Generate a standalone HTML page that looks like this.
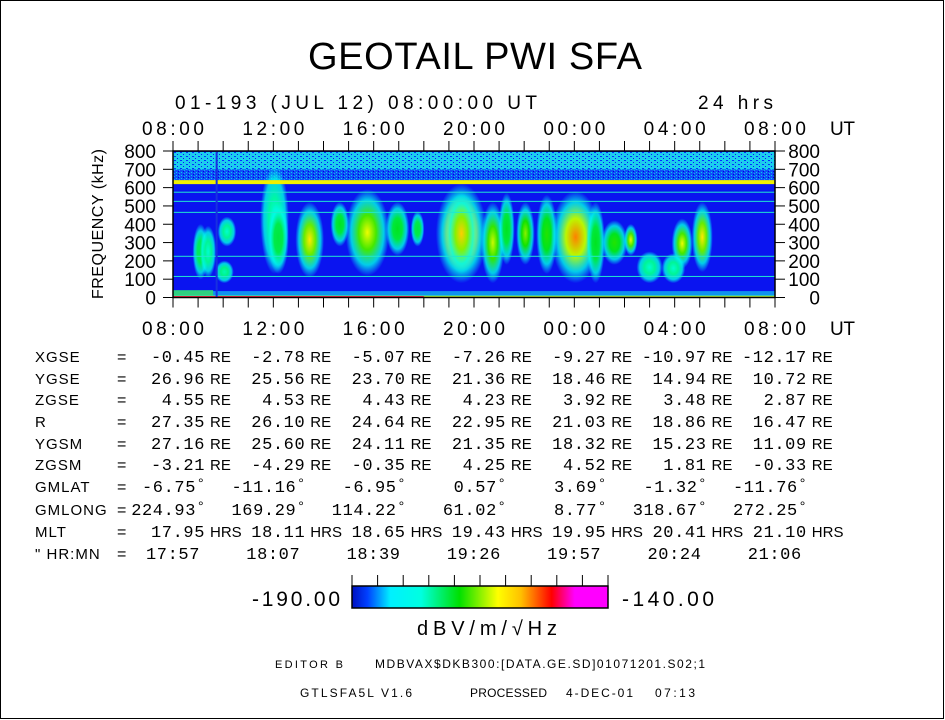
<!DOCTYPE html>
<html><head><meta charset="utf-8"><style>
html,body{margin:0;padding:0;background:#fff;}
svg{display:block;}
text{font-family:"Liberation Sans",sans-serif;fill:#000;}
.m{font-family:"Liberation Mono",monospace;}
</style></head><body>
<svg id="chart" width="945" height="720" viewBox="0 0 945 720" xmlns="http://www.w3.org/2000/svg">
<defs>
<linearGradient id="cbar" x1="0" x2="1" y1="0" y2="0">
<stop offset="0" stop-color="#0010c0"/><stop offset="0.06" stop-color="#0040ff"/>
<stop offset="0.15" stop-color="#00f0ff"/><stop offset="0.27" stop-color="#00ffe0"/>
<stop offset="0.42" stop-color="#00e000"/><stop offset="0.57" stop-color="#ffff00"/>
<stop offset="0.66" stop-color="#ffc000"/><stop offset="0.78" stop-color="#ff0000"/>
<stop offset="0.87" stop-color="#ff00ff"/><stop offset="1" stop-color="#ff00ff"/>
</linearGradient>
<pattern id="speck" width="6" height="4" patternUnits="userSpaceOnUse">
<rect width="6" height="4" fill="#20c8f0"/><rect x="0" y="0" width="2" height="1" fill="#0030ff"/>
<rect x="3" y="2" width="1" height="1" fill="#0020f0"/><rect x="4" y="0" width="1" height="1" fill="#00f0e0"/>
<rect x="1" y="3" width="1" height="1" fill="#00ffd8"/>
</pattern>
<pattern id="speck2" width="5" height="3" patternUnits="userSpaceOnUse">
<rect width="5" height="3" fill="#1050f8"/><rect x="1" y="1" width="1" height="1" fill="#00d0f0"/>
<rect x="3" y="0" width="1" height="1" fill="#0000e0"/><rect x="4" y="2" width="1" height="1" fill="#10b0f0"/>
</pattern>
</defs>
<rect x="0.5" y="0.5" width="943" height="718" fill="#fff" stroke="#000"/>
<text x="308" y="69" font-size="38" textLength="334" lengthAdjust="spacing">GEOTAIL PWI SFA</text>
<text x="175" y="109" font-size="19" textLength="362" lengthAdjust="spacing">01-193 (JUL 12) 08:00:00 UT</text>
<text x="698" y="109" font-size="19" textLength="75">24 hrs</text>
<g id="plot"></g>
<g id="axes"></g>
<g id="table"></g>
<g>
<rect x="352" y="586" width="256" height="22" fill="url(#cbar)" stroke="#000" stroke-width="1.5"/>
<g id="cbticks"></g>
<text x="340" y="606" text-anchor="end" font-size="21" textLength="88">-190.00</text>
<text x="622" y="606" font-size="21" textLength="92">-140.00</text>
<text x="417" y="635" font-size="20" textLength="140">dBV/m/√Hz</text>
</g>
<text x="275" y="668" font-size="11" textLength="68">EDITOR B</text>
<text x="375" y="668" font-size="12" textLength="330">MDBVAX$DKB300:[DATA.GE.SD]01071201.S02;1</text>
<text x="300" y="697" font-size="12" textLength="112">GTLSFA5L V1.6</text>
<text x="470" y="697" font-size="12" textLength="77">PROCESSED</text>
<text x="566" y="697" font-size="12" textLength="67">4-DEC-01</text>
<text x="655" y="697" font-size="12" textLength="40">07:13</text>
</svg>
<script>
// ---- chart data ----
const timeTicks = ["08:00","12:00","16:00","20:00","00:00","04:00","08:00"];
const freqTicks = [0,100,200,300,400,500,600,700,800];
const lineFreqs = [630,575,525,465,225,115];
const burstStart = [0.9,1.2,1.8,1.9,3.6,3.9,5.0,6.4,7.0,8.6,9.6,10.6,12.4,13.1,13.8,14.6,15.2,16.6,17.2,18.1,20.0,20.8,18.6,19.6,11.0];
const burstEnd   = [1.3,1.6,2.3,2.4,4.5,4.5,5.9,6.9,8.5,9.3,9.9,12.4,13.1,13.5,14.3,15.2,16.9,17.1,18.0,18.4,20.6,21.4,19.4,20.3,12.0];
const burstLow   = [120,130,100,300,150,150,130,300,140,250,300,100,100,200,200,150,100,100,200,250,180,160,100,100,150];
const burstHigh  = [380,370,180,420,700,500,500,500,570,500,450,600,500,550,500,540,560,500,400,380,410,500,230,220,550];
const burstPeak  = [-172,-176,-175,-176,-177,-171,-160,-170,-162,-170,-171,-150,-163,-170,-165,-168,-155,-170,-168,-162,-162,-160,-176,-176,-158];
const cbMin=-190, cbMax=-140;

const NS="http://www.w3.org/2000/svg";
const X0=173,X1=775,Y0=297.5,Y1=151;
const xs=h=>X0+(h/24)*(X1-X0);
const ys=f=>Y0-(f/800)*(Y0-Y1);
function mk(tag,at,parent){const e=document.createElementNS(NS,tag);for(const k in at)e.setAttribute(k,at[k]);parent.appendChild(e);return e;}
function cmap(v){
  const t=Math.max(0,Math.min(1,(v-cbMin)/(cbMax-cbMin)));
  const st=[[0,[0,16,192]],[0.15,[0,240,255]],[0.27,[0,255,224]],[0.42,[0,224,0]],[0.57,[255,255,0]],[0.66,[255,192,0]],[0.78,[255,0,0]],[0.87,[255,0,255]],[1,[255,0,255]]];
  for(let i=1;i<st.length;i++){if(t<=st[i][0]){const a=st[i-1],b=st[i];const u=(t-a[0])/(b[0]-a[0]);return "rgb("+a[1].map((c,j)=>Math.round(c+(b[1][j]-c)*u)).join(",")+")";}}
  return "rgb(255,0,255)";
}
const plot=document.getElementById('plot');
const defs=document.querySelector('defs');
mk('rect',{x:X0,y:Y1,width:X1-X0,height:Y0-Y1,fill:'#0a14f0'},plot);
mk('rect',{x:X0,y:Y1+1,width:X1-X0,height:ys(700)-Y1,fill:'url(#speck)'},plot);
mk('rect',{x:X0,y:ys(700),width:X1-X0,height:ys(620)-ys(700),fill:'url(#speck2)'},plot);
// bursts
for(let i=0;i<burstStart.length;i++){
  const g=mk('radialGradient',{id:'bg'+i,cx:'0.5',cy:'0.5',r:'0.5'},defs);
  mk('stop',{offset:'0','stop-color':cmap(burstPeak[i])},g);
  mk('stop',{offset:'0.4','stop-color':cmap((burstPeak[i]-172)/2)},g);
  mk('stop',{offset:'0.75','stop-color':cmap(-178),'stop-opacity':'0.8'},g);
  mk('stop',{offset:'1','stop-color':cmap(-180),'stop-opacity':'0'},g);
  const x1=xs(burstStart[i]),x2=xs(burstEnd[i]),yt=ys(burstHigh[i]),yb=ys(burstLow[i]);
  const el=mk('ellipse',{cx:(x1+x2)/2,cy:(yt+yb)/2,rx:(x2-x1)/2+3,ry:(yb-yt)/2+4,fill:'url(#bg'+i+')'},plot);
  
  
}
// horizontal lines
lineFreqs.forEach((f,i)=>{
  const l=mk('rect',{x:X0,y:ys(f)-(i==0?2:0.5),width:X1-X0,height:i==0?4:1,fill:i==0?'#f0f000':'#20e8d0'},plot);
  
  
});
// bottom band
mk('rect',{x:X0,y:ys(35),width:X1-X0,height:ys(10)-ys(35),fill:'#10a0f0',opacity:0.9},plot);
mk('rect',{x:X0,y:ys(40),width:xs(1.6)-X0,height:ys(10)-ys(40),fill:'#30d080'},plot);
mk('rect',{x:X0,y:ys(12),width:X1-X0,height:2,fill:'#40e0a0'},plot);
mk('rect',{x:X0,y:ys(7),width:X1-X0,height:1.5,fill:'#f0f000'},plot);
mk('rect',{x:X0,y:Y0-1.5,width:xs(10)-X0,height:1.5,fill:'#ff2040'},plot);
mk('rect',{x:xs(1.7),y:Y1,width:2,height:Y0-Y1,fill:'#1830e0'},plot);
// axes
const ax=document.getElementById('axes');
mk('rect',{x:X0,y:Y1,width:X1-X0,height:Y0-Y1,fill:'none',stroke:'#000','stroke-width':1.5},ax);
for(let h=0;h<=24;h++){
  const x=xs(h);
  mk('line',{x1:x,x2:x,y1:Y1-10,y2:Y1,stroke:'#000'},ax);
  mk('line',{x1:x,x2:x,y1:Y0,y2:Y0+10,stroke:'#000'},ax);
}
timeTicks.forEach((t,i)=>{
  const x=xs(i*4);
  const a=mk('text',{x:x,y:135,'text-anchor':'middle','font-size':19,textLength:62},ax);a.textContent=t;
  
  const b=mk('text',{x:x,y:335,'text-anchor':'middle','font-size':19,textLength:62},ax);b.textContent=t;
  
});
[[135],[335]].forEach(([y])=>{const u=mk('text',{x:830,y:y,'font-size':19,textLength:25},ax);u.textContent='UT';
  });
freqTicks.forEach(f=>{
  const y=ys(f);
  mk('line',{x1:X0-10,x2:X0,y1:y,y2:y,stroke:'#000'},ax);
  mk('line',{x1:X1,x2:X1+10,y1:y,y2:y,stroke:'#000'},ax);
  const a=mk('text',{x:156,y:y+7,'text-anchor':'end','font-size':19},ax);a.textContent=f;
  
  const b=mk('text',{x:820,y:y+7,'text-anchor':'end','font-size':19},ax);b.textContent=f;
  
});
const yt=mk('text',{x:0,y:0,'text-anchor':'middle','font-size':16,textLength:150,transform:'translate(103,224) rotate(-90)'},ax);
yt.textContent='FREQUENCY (kHz)';

// colorbar ticks
const cbt=document.getElementById('cbticks');
for(let i=0;i<=10;i++){const x=352+i*25.6;mk('line',{x1:x,x2:x,y1:575,y2:586,stroke:'#000'},cbt);}
// ---- table ----
const rowLabels=["XGSE","YGSE","ZGSE","R","YGSM","ZGSM","GMLAT","GMLONG","MLT","\" HR:MN"];
const rowUnits=["RE","RE","RE","RE","RE","RE","°","°","HRS",""];
const rowVals=[
["-0.45","-2.78","-5.07","-7.26","-9.27","-10.97","-12.17"],
["26.96","25.56","23.70","21.36","18.46","14.94","10.72"],
["4.55","4.53","4.43","4.23","3.92","3.48","2.87"],
["27.35","26.10","24.64","22.95","21.03","18.86","16.47"],
["27.16","25.60","24.11","21.35","18.32","15.23","11.09"],
["-3.21","-4.29","-0.35","4.25","4.52","1.81","-0.33"],
["-6.75","-11.16","-6.95","0.57","3.69","-1.32","-11.76"],
["224.93","169.29","114.22","61.02","8.77","318.67","272.25"],
["17.95","18.11","18.65","19.43","19.95","20.41","21.10"],
["17:57","18:07","18:39","19:26","19:57","20:24","21:06"]];
const tb=document.getElementById('table');
const rowY=[362,384,405,427,449,470,492,515,537,559];
rowLabels.forEach((lab,r)=>{
  const y=rowY[r];
  const t=mk('text',{x:35,y:y,'font-size':15,'letter-spacing':'1'},tb);t.textContent=lab;
  
  const e=mk('text',{x:117,y:y,'font-size':16},tb);e.textContent='=';
  rowVals[r].forEach((v,c)=>{
    const re=210+c*100.3;
    const u=rowUnits[r];
    let end=re-5;
    if(u==='°')end=re-14;
    if(u==='')end=re-10;
    const n=mk('text',{x:end,y:y,'text-anchor':'end','font-size':17,'letter-spacing':'0.6'},tb);
    n.setAttribute('class','m');n.textContent=v;
    
    if(u==='RE'||u==='HRS'){const w=mk('text',{x:re,y:y,'font-size':15},tb);w.textContent=u;}
    else if(u==='°'){const w=mk('text',{x:end+2,y:y-4,'font-size':14},tb);w.textContent='°';}
  });
});
</script>
</body></html>
